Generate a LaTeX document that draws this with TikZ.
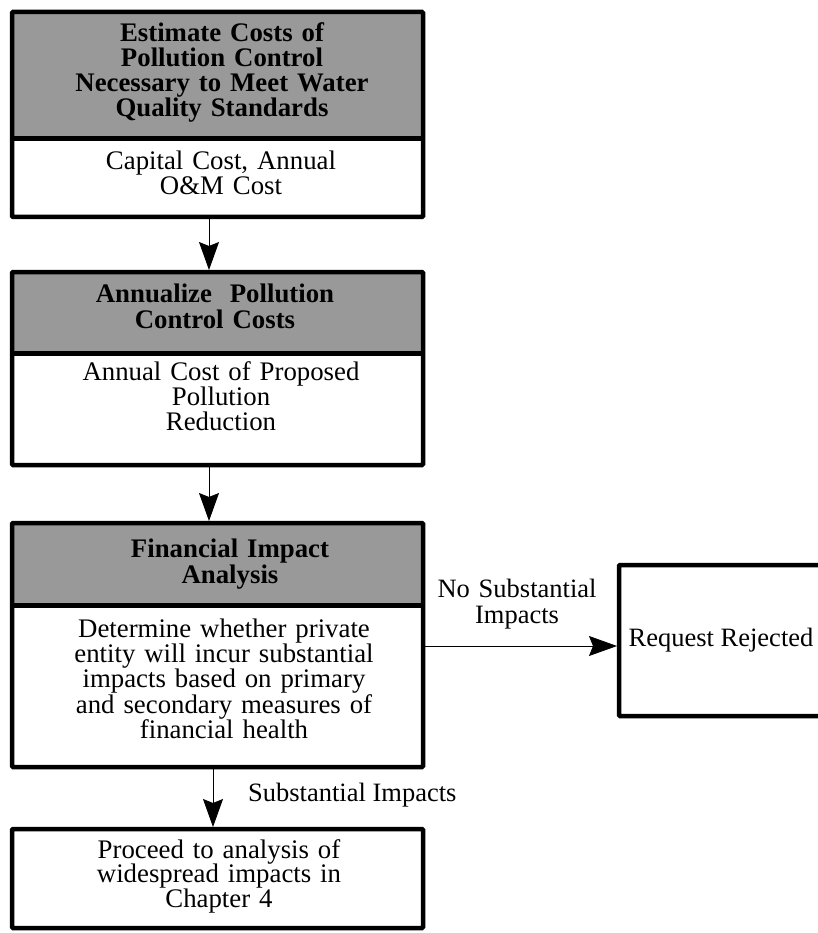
\documentclass[tikz,border=0pt]{standalone}
\usepackage{fontspec}
\setmainfont{Liberation Serif}
\usetikzlibrary{arrows.meta,calc}
\begin{document}
\begin{tikzpicture}[x=1pt,y=-1pt,
  boxframe/.style={draw,line width=4.5pt,rounded corners=1pt,inner sep=0pt,outer sep=0pt},
  hdrband/.style={fill=black!40,inner sep=0pt,outer sep=0pt},
  divider/.style={line width=5pt},
  bodytxt/.style={anchor=base,text width=400pt,align=center,inner sep=0pt,font=\fontsize{26.8}{#1}\selectfont},
  bodytxt/.default=24,
  hdrtxt/.style={anchor=base,text width=400pt,align=center,inner sep=0pt,font=\bfseries\fontsize{26.8}{#1}\selectfont},
  hdrtxt/.default=25,
  lbl/.style={inner sep=0pt,font=\fontsize{26.5}{26}\selectfont},
  flow/.style={line width=0.9pt,shorten <=2pt,shorten >=2pt,-{Stealth[length=28pt,width=20pt,inset=4pt]}}
]
\useasboundingbox (0,0) rectangle (817,933);

% header bands
\node[hdrband,minimum width=411pt,minimum height=126.5pt] (h1) at (217.5,75.25) {};
\node[hdrband,minimum width=411pt,minimum height=81pt] (h2) at (217.5,312.5) {};
\node[hdrband,minimum width=411pt,minimum height=82pt] (h3) at (217.5,564) {};
\draw[divider] (h1.south west) -- (h1.south east);
\draw[divider] (h2.south west) -- (h2.south east);
\draw[divider] (h3.south west) -- (h3.south east);

% box frames
\node[boxframe,minimum width=411pt,minimum height=205pt] (b1) at (217.5,114.5) {};
\node[boxframe,minimum width=411pt,minimum height=193pt] (b2) at (217.5,368.5) {};
\node[boxframe,minimum width=411pt,minimum height=244pt] (b3) at (217.5,645) {};
\node[boxframe,minimum width=411pt,minimum height=99pt] (b4) at (217.5,878.5) {};
\node[boxframe,minimum width=204pt,minimum height=151pt] (req) at (721,640.5) {};

% texts
\node[hdrtxt=25] (t1h) at (222,42) {Estimate Costs of\\Pollution Control\\Necessary to Meet Water\\Quality Standards};
\node[bodytxt=23] (t1b) at (221,170) {Capital Cost, Annual\\O\&M Cost};
\node[hdrtxt=26] (t2h) at (215,302) {Annualize\ \ Pollution\\Control Costs};
\node[bodytxt=25] (t2b) at (221,380) {Annual Cost of Proposed\\Pollution\\Reduction};
\node[hdrtxt=26] (t3h) at (230,557) {Financial Impact\\Analysis};
\node[bodytxt=23.3] (t3b) at (224,637) {Determine whether private\\entity will incur substantial\\impacts based on primary\\and secondary measures of\\financial health};
\node[bodytxt=24.5] (t4b) at (219,858) {Proceed to analysis of\\widespread impacts in\\Chapter 4};
\node[lbl,anchor=base] (treq) at (721,646) {Request Rejected};

% connectors
\draw[flow] ($(b1.south)+(-8.5,0)$) -- ($(b2.north)+(-8.5,0)$);
\draw[flow] ($(b2.south)+(-8.5,0)$) -- ($(b3.north)+(-8.5,0)$);
\draw[flow] ($(b3.south)+(-4.5,0)$) -- ($(b4.north)+(-4.5,0)$);
\draw[flow] ($(b3.east)+(0,1)$) -- ($(req.west)+(0,5.5)$);

% connector labels
\node[lbl,anchor=base,text width=200pt,align=center] (nsl) at (517,597) {No Substantial\\[0pt]Impacts};
\node[lbl,anchor=base west] (sl) at (248,801) {Substantial Impacts};
\end{tikzpicture}
\end{document}
